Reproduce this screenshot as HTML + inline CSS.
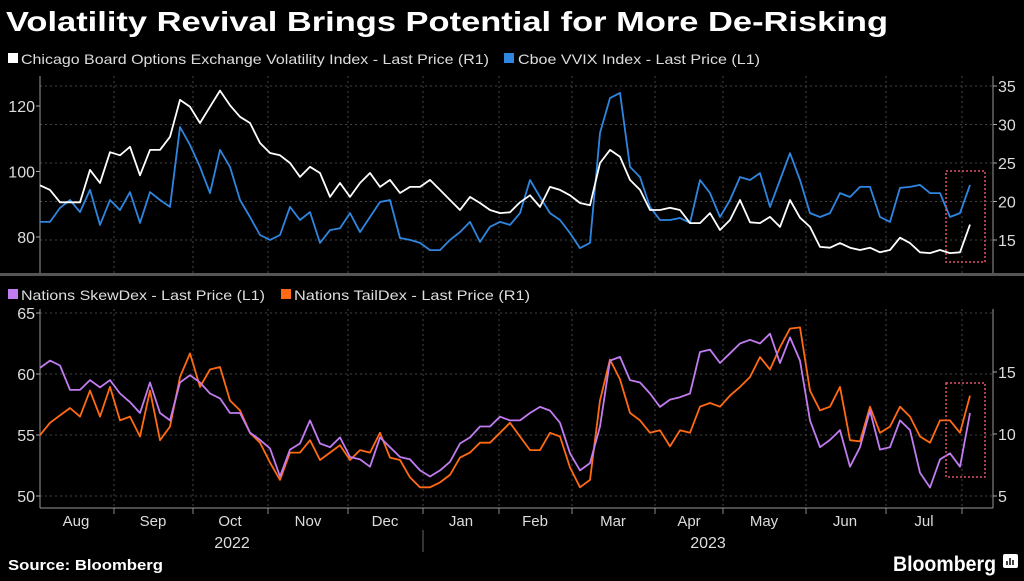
<!DOCTYPE html>
<html><head><meta charset="utf-8"><style>
html,body{margin:0;padding:0;background:#000;}
body{width:1024px;height:576px;overflow:hidden;position:relative;font-family:"Liberation Sans",sans-serif;}
svg text{font-family:"Liberation Sans",sans-serif;}
</style></head><body>
<svg id="chart" width="1024" height="576" viewBox="0 0 1024 576" xmlns="http://www.w3.org/2000/svg">
<text x="6" y="31" fill="#fff" font-size="28" font-weight="bold" textLength="882" lengthAdjust="spacingAndGlyphs">Volatility Revival Brings Potential for More De-Risking</text>
<g font-size="14" fill="#ddd">
<rect x="8" y="53" width="10" height="10" fill="#fff"/>
<text x="21" y="64" textLength="468" lengthAdjust="spacingAndGlyphs">Chicago Board Options Exchange Volatility Index - Last Price (R1)</text>
<rect x="504" y="53" width="10" height="10" fill="#2f86e0"/>
<text x="518" y="64" textLength="242" lengthAdjust="spacingAndGlyphs">Cboe VVIX Index - Last Price (L1)</text>
</g>
<g font-size="14" fill="#ddd">
<rect x="8" y="289" width="10" height="10" fill="#c07cf0"/>
<text x="21" y="300" textLength="244" lengthAdjust="spacingAndGlyphs">Nations SkewDex - Last Price (L1)</text>
<rect x="281" y="289" width="10" height="10" fill="#ff6a13"/>
<text x="294" y="300" textLength="236" lengthAdjust="spacingAndGlyphs">Nations TailDex - Last Price (R1)</text>
</g>
<g id="grid"></g>
<g id="axes"></g>
<g id="series"></g>
<rect x="946" y="171" width="39" height="91" fill="none" stroke="#e0506a" stroke-width="1.5" stroke-dasharray="2,2"/>
<rect x="946" y="383" width="39" height="94" fill="none" stroke="#e0506a" stroke-width="1.5" stroke-dasharray="2,2"/>
<text x="232" y="548" fill="#ddd" font-size="16" text-anchor="middle">2022</text>
<text x="708" y="548" fill="#ddd" font-size="16" text-anchor="middle">2023</text>
<line x1="423" y1="530" x2="423" y2="552" stroke="#666"/>
<text x="8" y="570" fill="#fff" font-size="15" font-weight="bold" textLength="155" lengthAdjust="spacingAndGlyphs">Source: Bloomberg</text>
<text x="893" y="571" fill="#fff" font-size="21" font-weight="bold" textLength="103" lengthAdjust="spacingAndGlyphs">Bloomberg</text>
<rect x="1003" y="554" width="15" height="14" rx="2" fill="#fff"/>
<path d="M1007 565V561M1010 565V558M1013 565V560" stroke="#000" stroke-width="1.5"/>
</svg>
<script>
const vix=[22.1,21.5,19.9,19.9,19.9,24.1,22.4,26.4,26.0,27.1,23.4,26.7,26.7,28.4,33.2,32.3,30.2,32.3,34.4,32.5,31.0,30.2,27.6,26.3,26.0,25.0,23.2,24.5,23.7,20.6,22.4,20.6,22.4,23.7,21.9,22.8,21.1,21.9,21.9,22.8,21.5,20.2,18.9,20.6,19.8,18.9,18.5,18.6,19.9,20.8,19.3,21.9,21.5,20.8,19.8,19.5,25.0,26.7,25.8,22.8,21.5,18.9,18.9,19.2,18.9,17.2,17.2,18.5,16.3,17.6,20.2,17.3,17.2,18.0,16.7,20.2,17.9,16.7,14.1,14.0,14.6,14.0,13.7,14.0,13.4,13.7,15.3,14.6,13.4,13.3,13.7,13.3,13.4,17.0];
const vvix=[84.6,84.6,88.9,91.3,87.6,94.4,83.7,91.3,88.2,93.7,84.3,93.7,91.3,89.2,113.6,108.1,101.4,93.4,106.6,101.4,91.3,86.1,80.6,79.1,80.6,89.2,85.2,87.6,78.2,82.1,82.7,87.3,81.5,86.1,90.7,91.3,79.7,79.1,78.2,76.0,76.0,79.1,81.5,84.6,78.5,83.1,84.6,83.7,87.3,97.4,92.2,87.3,85.2,81.2,76.6,78.2,111.8,122.4,124.0,101.4,98.3,89.2,85.2,85.2,85.8,84.3,97.4,93.4,86.1,91.3,98.3,97.4,99.5,89.2,97.4,105.6,97.4,87.3,86.1,87.3,93.4,92.2,95.3,95.3,86.1,84.6,95.0,95.3,95.9,93.4,93.4,86.1,87.3,95.9];
const skew=[60.5,61.1,60.7,58.7,58.7,59.5,58.9,59.5,58.4,57.7,56.8,59.3,56.8,56.2,59.3,59.9,59.3,58.4,58.0,56.8,56.8,55.2,54.6,53.9,51.6,53.8,54.3,56.2,54.3,54.0,54.8,53.2,53.0,52.4,54.8,54.0,53.2,53.0,52.1,51.6,52.1,52.8,54.3,54.8,55.7,55.7,56.5,56.2,56.2,56.8,57.3,57.0,56.0,53.5,52.1,52.7,55.7,61.1,61.4,59.5,59.3,58.4,57.3,57.9,58.1,58.4,61.8,62.0,60.9,61.7,62.5,62.8,62.5,63.3,60.9,63.0,61.1,56.2,54.0,54.6,55.4,52.4,54.0,57.0,53.8,54.0,56.2,55.4,51.9,50.7,53.0,53.5,52.4,56.8];
const tail=[9.9,10.9,11.5,12.1,11.4,13.5,11.4,13.8,11.1,11.4,9.8,13.5,9.5,10.6,14.6,16.5,13.8,15.2,15.4,12.7,11.9,10.1,9.3,7.7,6.3,8.5,8.5,9.5,7.9,8.5,9.1,7.9,8.7,8.5,10.1,8.1,7.9,6.5,5.7,5.7,6.1,6.7,8.1,8.5,9.3,9.3,10.1,10.9,9.8,8.7,8.7,10.1,9.8,7.3,5.7,6.3,12.7,16.0,14.4,11.7,11.1,10.1,10.3,9.0,10.3,10.1,12.2,12.5,12.2,13.1,13.8,14.6,16.2,15.2,17.0,18.5,18.6,13.5,11.9,12.2,13.8,9.5,9.4,12.2,10.1,10.6,12.2,11.4,9.8,9.3,11.1,11.1,10.1,13.1];
const months=["Aug","Sep","Oct","Nov","Dec","Jan","Feb","Mar","Apr","May","Jun","Jul"];
const topLeftTicks=[80,100,120];
const topRightTicks=[15,20,25,30,35];
const botLeftTicks=[50,55,60,65];
const botRightTicks=[5,10,15];

const NS="http://www.w3.org/2000/svg";
const X0=40,X1=993;
const xIdx=i=>40+i*(930/(vix.length-1));
const yTL=v=>237-(v-80)*3.275;
const yTR=v=>240-(v-15)*7.7;
const yBL=v=>496-(v-50)*12.2;
const yBR=v=>496-(v-5)*12.4;
const monthTicks=[114,193,268,348,423,499,572,655,723,806,886,962];
const monthLabelX=[76,153,230,308,385,461,535,613,689,764,845,924];

function mk(tag,attrs,parent){const e=document.createElementNS(NS,tag);for(const k in attrs)e.setAttribute(k,attrs[k]);parent.appendChild(e);return e;}
const grid=document.getElementById('grid'),axes=document.getElementById('axes'),series=document.getElementById('series');

monthTicks.forEach(x=>{
  let l=mk('line',{x1:x,y1:76,x2:x,y2:273,stroke:'#444','stroke-dasharray':'2,3'},grid);
  
  
  let l2=mk('line',{x1:x,y1:309,x2:x,y2:508,stroke:'#444','stroke-dasharray':'2,3'},grid);
  
  
  let t=mk('line',{x1:x,y1:508,x2:x,y2:514,stroke:'#888'},axes);
  
  
});
months.forEach((m,i)=>{
  let t=mk('text',{x:monthLabelX[i],y:526,fill:'#ddd','font-size':'15','text-anchor':'middle'},axes);
  t.textContent=m;
  
  
});
topRightTicks.forEach(v=>{
  let y=yTR(v);
  let g=mk('line',{x1:X0,y1:y,x2:X1,y2:y,stroke:'#444','stroke-dasharray':'2,3'},grid);
  
  
  let t=mk('text',{x:998,y:y+6,fill:'#ddd','font-size':'16'},axes);
  t.textContent=v;
  
  
  mk('line',{x1:X1,y1:y,x2:X1+4,y2:y,stroke:'#aaa'},axes);
});
topLeftTicks.forEach(v=>{
  let y=yTL(v);
  let t=mk('text',{x:35,y:y+6,fill:'#ddd','font-size':'16','text-anchor':'end'},axes);
  t.textContent=v;
  
  
  mk('line',{x1:36,y1:y,x2:X0,y2:y,stroke:'#aaa'},axes);
});
botLeftTicks.forEach(v=>{
  let y=yBL(v);
  let g=mk('line',{x1:X0,y1:y,x2:X1,y2:y,stroke:'#444','stroke-dasharray':'2,3'},grid);
  
  
  let t=mk('text',{x:35,y:y+6,fill:'#ddd','font-size':'16','text-anchor':'end'},axes);
  t.textContent=v;
  
  
  mk('line',{x1:36,y1:y,x2:X0,y2:y,stroke:'#aaa'},axes);
});
botRightTicks.forEach(v=>{
  let y=yBR(v);
  let t=mk('text',{x:998,y:y+6,fill:'#ddd','font-size':'16'},axes);
  t.textContent=v;
  
  
  mk('line',{x1:X1,y1:y,x2:X1+4,y2:y,stroke:'#aaa'},axes);
});
[[X0,76,X0,273],[X1,76,X1,273],[X0,309,X0,508],[X1,309,X1,508],[X0,508,X1,508]].forEach(a=>{
  let l=mk('line',{x1:a[0],y1:a[1],x2:a[2],y2:a[3],stroke:'#999'},axes);
  
  
});
let sep=mk('rect',{x:0,y:273,width:1024,height:3,fill:'#555'},axes);



function line(data,yf,color,name){
  const d=data.map((v,i)=>(i?'L':'M')+xIdx(i).toFixed(1)+','+yf(v).toFixed(1)).join('');
  const p=mk('path',{d:d,fill:'none',stroke:color,'stroke-width':'1.8','stroke-linejoin':'round'},series);
  
  
}
line(vvix,yTL,'#2f86e0','vvix-line');
line(vix,yTR,'#ffffff','vix-line');
line(tail,yBR,'#ff6a13','taildex-line');
line(skew,yBL,'#c07cf0','skewdex-line');
</script>
</body></html>
